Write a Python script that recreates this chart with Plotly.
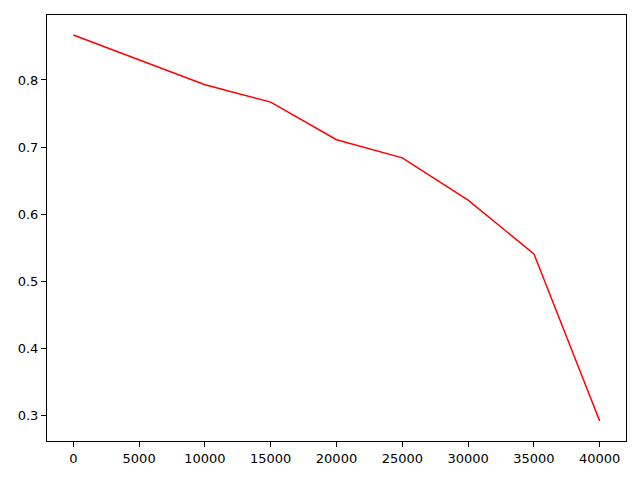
import plotly.graph_objects as go

steps = [0, 5000, 10000, 15000, 20000, 25000, 30000, 35000, 40000]
values = [0.867, 0.830, 0.793, 0.767, 0.711, 0.684, 0.621, 0.541, 0.292]

fig = go.Figure(go.Scatter(x=steps, y=values, mode='lines',
    line=dict(color='#ff0000', width=1.5), showlegend=False))

axis_style = dict(showgrid=False, zeroline=False, showline=True, linecolor='black',
    linewidth=1, mirror=True, ticks='outside', ticklen=5, tickcolor='black',
    tickfont=dict(family='DejaVu Sans', size=13, color='black'))

fig.update_xaxes(range=[-2000, 42000], tickvals=steps,
    ticktext=[str(s) for s in steps], **axis_style)
fig.update_yaxes(range=[0.2622, 0.8968], tickvals=[0.3, 0.4, 0.5, 0.6, 0.7, 0.8],
    ticktext=['0.3', '0.4', '0.5', '0.6', '0.7', '0.8'], **axis_style)

# page body adds ~8px offset, so margins are shifted to compensate
fig.update_layout(width=640, height=480, plot_bgcolor='white', paper_bgcolor='white',
    margin=dict(l=39, r=22, t=7, b=47))

fig.write_html("out.html")
